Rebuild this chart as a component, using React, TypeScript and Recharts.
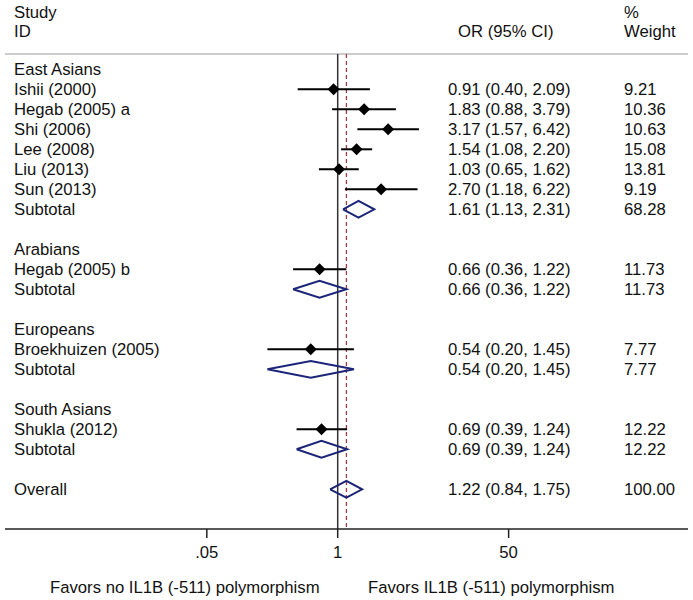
import React from 'react'
import {
  ComposedChart,
  XAxis,
  YAxis,
  Scatter,
  Line,
  ErrorBar,
  ReferenceLine,
} from 'recharts'

const groups = ['East Asians', 'Arabians', 'Europeans', 'South Asians']

const studies = [
  'Ishii (2000)',
  'Hegab (2005) a',
  'Shi (2006)',
  'Lee (2008)',
  'Liu (2013)',
  'Sun (2013)',
  'Hegab (2005) b',
  'Broekhuizen (2005)',
  'Shukla (2012)',
]
const studyGroup = [0, 0, 0, 0, 0, 0, 1, 2, 3]
const studyOR = [0.91, 1.83, 3.17, 1.54, 1.03, 2.7, 0.66, 0.54, 0.69]
const studyLo = [0.4, 0.88, 1.57, 1.08, 0.65, 1.18, 0.36, 0.2, 0.39]
const studyHi = [2.09, 3.79, 6.42, 2.2, 1.62, 6.22, 1.22, 1.45, 1.24]
const studyWeight = [9.21, 10.36, 10.63, 15.08, 13.81, 9.19, 11.73, 7.77, 12.22]

const subOR = [1.61, 0.66, 0.54, 0.69]
const subLo = [1.13, 0.36, 0.2, 0.39]
const subHi = [2.31, 1.22, 1.45, 1.24]
const subWeight = [68.28, 11.73, 7.77, 12.22]

const overallOR = 1.22
const overallLo = 0.84
const overallHi = 1.75
const overallWeight = 100

const xTicks = [0.05, 1, 50]
const xTickLabels = ['.05', '1', '50']

const FONT = "'Liberation Sans', Arial, sans-serif"
const FONT_SIZE = 16.7
const NAVY = '#1c2577'

// layout: pixel geometry of the plot
const ROW_PX = 20
const FIRST_ROW_Y = 69.3
const PLOT_BOTTOM = 529
const X_ONE = 337.7
const PX_PER_DECADE = 100.6
const PLOT_LEFT = 5
const PLOT_RIGHT = 688
const xDomain = [
  Math.pow(10, (PLOT_LEFT - X_ONE) / PX_PER_DECADE),
  Math.pow(10, (PLOT_RIGHT - X_ONE) / PX_PER_DECADE),
]
const yDomain = [-FIRST_ROW_Y / ROW_PX, (PLOT_BOTTOM - FIRST_ROW_Y) / ROW_PX]
const headerLineRow = (54 - FIRST_ROW_Y) / ROW_PX

type Row = {
  x: number
  y: number
  label: string
  kind: 'group' | 'study' | 'subtotal' | 'overall'
  or?: number
  lo?: number
  hi?: number
  w?: number
}

const rows: Row[] = []
const studyPoints: { x: number; y: number; err: number[] }[] = []
const diamonds: { x: number; y: number }[][] = []

const DH = 0.42
const diamond = (or: number, lo: number, hi: number, y: number) => [
  { x: lo, y },
  { x: or, y: y - DH },
  { x: hi, y },
  { x: or, y: y + DH },
  { x: lo, y },
]

let r = 0
groups.forEach((g, gi) => {
  rows.push({ x: 1, y: r++, label: g, kind: 'group' })
  studies.forEach((s, si) => {
    if (studyGroup[si] !== gi) return
    rows.push({
      x: 1,
      y: r,
      label: s,
      kind: 'study',
      or: studyOR[si],
      lo: studyLo[si],
      hi: studyHi[si],
      w: studyWeight[si],
    })
    studyPoints.push({
      x: studyOR[si],
      y: r,
      err: [studyOR[si] - studyLo[si], studyHi[si] - studyOR[si]],
    })
    r++
  })
  rows.push({
    x: 1,
    y: r,
    label: 'Subtotal',
    kind: 'subtotal',
    or: subOR[gi],
    lo: subLo[gi],
    hi: subHi[gi],
    w: subWeight[gi],
  })
  diamonds.push(diamond(subOR[gi], subLo[gi], subHi[gi], r))
  r += 2
})
rows.push({
  x: 1,
  y: r,
  label: 'Overall',
  kind: 'overall',
  or: overallOR,
  lo: overallLo,
  hi: overallHi,
  w: overallWeight,
})
diamonds.push(diamond(overallOR, overallLo, overallHi, r))

const headerRows = [
  { x: 1, y: -2.82, left: 'Study', mid: '', right: '%' },
  { x: 1, y: -1.9, left: 'ID', mid: 'OR (95% CI)', right: 'Weight' },
]

const textStyle = { fontFamily: FONT, fontSize: FONT_SIZE, fill: '#111' }

const RowText = (props: any) => {
  const { cy, payload } = props
  const p = payload as Row
  const hasStats = p.or !== undefined
  return (
    <g>
      <text x={14} y={cy} dominantBaseline="central" {...textStyle}>
        {p.label}
      </text>
      {hasStats && (
        <text x={448} y={cy} dominantBaseline="central" {...textStyle}>
          {`${p.or!.toFixed(2)} (${p.lo!.toFixed(2)}, ${p.hi!.toFixed(2)})`}
        </text>
      )}
      {hasStats && (
        <text x={624} y={cy} dominantBaseline="central" {...textStyle}>
          {p.w!.toFixed(2)}
        </text>
      )}
    </g>
  )
}

const HeaderText = (props: any) => {
  const { cy, payload } = props
  return (
    <g>
      <text x={14} y={cy} dominantBaseline="central" {...textStyle}>
        {payload.left}
      </text>
      <text x={458} y={cy} dominantBaseline="central" {...textStyle}>
        {payload.mid}
      </text>
      <text x={624} y={cy} dominantBaseline="central" {...textStyle}>
        {payload.right}
      </text>
    </g>
  )
}

const StudyMarker = (props: any) => {
  const { cx, cy } = props
  const s = 6
  return (
    <polygon
      points={`${cx - s},${cy} ${cx},${cy - s} ${cx + s},${cy} ${cx},${cy + s}`}
      fill="#000"
    />
  )
}

const AxisCaptions = () => (
  <g>
    <text x={50} y={587} dominantBaseline="central" {...textStyle}>
      Favors no IL1B (-511) polymorphism
    </text>
    <text x={368} y={587} dominantBaseline="central" {...textStyle}>
      Favors IL1B (-511) polymorphism
    </text>
  </g>
)

export default function App() {
  return (
    <div style={{ position: 'absolute', left: 0, top: 0, background: '#fff' }}>
      <ComposedChart
        width={693}
        height={600}
        margin={{ top: 0, right: 693 - PLOT_RIGHT, bottom: 0, left: PLOT_LEFT }}
      >
        <XAxis
          dataKey="x"
          type="number"
          scale="log"
          domain={xDomain}
          allowDataOverflow
          ticks={xTicks}
          interval={0}
          height={71}
          tickSize={9}
          tickMargin={8}
          stroke="#222"
          strokeWidth={1.5}
          tickFormatter={(v: number) => xTickLabels[xTicks.indexOf(v)] ?? String(v)}
          tick={{ fill: '#111', fontSize: FONT_SIZE, fontFamily: FONT }}
          label={<AxisCaptions />}
        />
        <YAxis dataKey="y" type="number" domain={yDomain} reversed allowDataOverflow hide />
        <ReferenceLine y={headerLineRow} stroke="#bbb" strokeWidth={1.5} />
        <ReferenceLine
          segment={[
            { x: 1, y: headerLineRow },
            { x: 1, y: yDomain[1] },
          ]}
          stroke="#333"
          strokeWidth={1.5}
        />
        <ReferenceLine
          segment={[
            { x: overallOR, y: headerLineRow },
            { x: overallOR, y: yDomain[1] },
          ]}
          stroke="#b0303a"
          strokeWidth={1.2}
          strokeDasharray="4 3"
        />
        {diamonds.map((d, i) => (
          <Line
            key={i}
            data={d}
            dataKey="y"
            type="linear"
            stroke={NAVY}
            strokeWidth={2}
            dot={false}
            activeDot={false}
            isAnimationActive={false}
          />
        ))}
        <Scatter data={studyPoints} shape={<StudyMarker />} isAnimationActive={false}>
          <ErrorBar dataKey="err" direction="x" width={0} stroke="#000" strokeWidth={2} />
        </Scatter>
        <Scatter data={rows} shape={<RowText />} isAnimationActive={false} />
        <Scatter data={headerRows} shape={<HeaderText />} isAnimationActive={false} />
      </ComposedChart>
    </div>
  )
}
